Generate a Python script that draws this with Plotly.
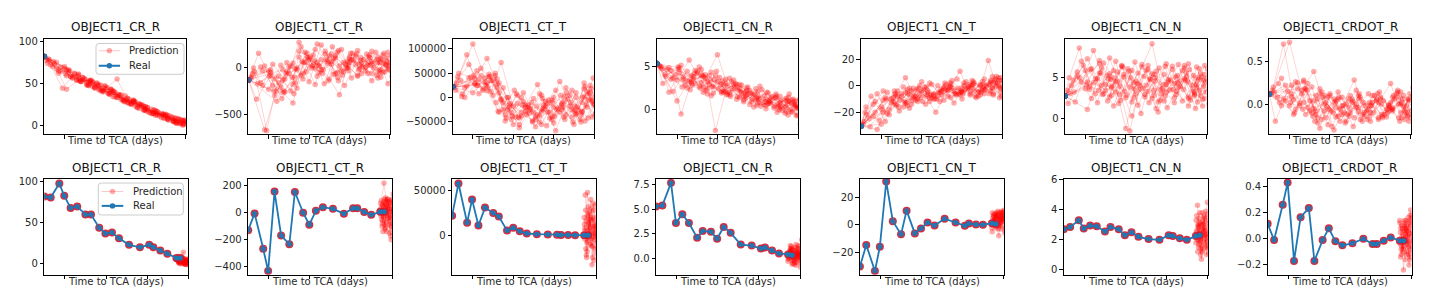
import plotly.graph_objects as go

W, H = 1434, 299
FONT = "DejaVu Sans"
TXT = "#262626"

titles = ["OBJECT1_CR_R", "OBJECT1_CT_R", "OBJECT1_CT_T", "OBJECT1_CN_R",
          "OBJECT1_CN_T", "OBJECT1_CN_N", "OBJECT1_CRDOT_R"]
x_label = "Time to TCA (days)"
x_ticks = [-6, -4, -2, 0]
legend_names = ["Prediction", "Real"]

# time of real observations (days to TCA)
real_t = [-7.0, -6.69, -6.27, -6.03, -5.72, -5.40, -5.0, -4.73, -4.33, -4.03,
          -3.71, -3.37, -2.88, -2.35, -1.90, -1.70, -1.36, -1.02, -0.58, -0.39]

# prediction sample times, top row (one list per sampled trajectory)
pred_t_top = [
    [-6.8, -6.3, -5.8, -5.2, -4.7, -4.1, -3.5, -2.9, -2.3, -1.8, -1.2, -0.6, -0.05],
    [-6.5, -5.6, -5.0, -4.5, -3.9, -3.4, -2.8, -2.3, -1.7, -1.2, -0.7, -0.3, 0.1],
    [-6.9, -6.0, -5.4, -4.8, -4.3, -3.7, -3.1, -2.6, -2.0, -1.5, -0.9, -0.4, 0.05],
    [-6.2, -5.5, -4.9, -4.4, -3.8, -3.3, -2.7, -2.1, -1.6, -1.1, -0.6, -0.2, 0.2],
    [-5.9, -5.3, -4.8, -4.2, -3.6, -3.0, -2.5, -2.0, -1.5, -1.0, -0.5, -0.1, 0.3],
    [-6.7, -6.1, -5.5, -4.9, -4.4, -3.8, -3.2, -2.7, -2.2, -1.6, -1.0, -0.5, -0.1],
    [-6.4, -5.7, -5.1, -4.6, -4.0, -3.5, -2.9, -2.4, -1.9, -1.3, -0.8, -0.35, 0.1],
    [-5.6, -5.0, -4.5, -4.0, -3.4, -2.9, -2.4, -1.9, -1.4, -0.9, -0.45, -0.05, 0.3],
    [-6.6, -5.9, -5.2, -4.6, -4.1, -3.6, -3.0, -2.5, -1.95, -1.4, -0.85, -0.3, 0.15],
    [-6.0, -5.4, -4.7, -4.2, -3.7, -3.2, -2.6, -2.1, -1.55, -1.05, -0.55, -0.15, 0.25],
    [-6.85, -6.2, -5.7, -5.1, -4.5, -3.95, -3.4, -2.8, -2.25, -1.7, -1.15, -0.65, -0.2],
    [-5.3, -4.85, -4.35, -3.85, -3.35, -2.85, -2.35, -1.85, -1.35, -0.9, -0.5, -0.15, 0.2],
    [-6.3, -5.8, -5.25, -4.7, -4.15, -3.6, -3.05, -2.55, -2.0, -1.45, -0.95, -0.45, 0.0],
    [-6.75, -6.4, -5.9, -5.3, -4.75, -4.25, -3.7, -3.15, -2.6, -2.05, -1.45, -0.9, -0.35],
    [-5.75, -5.15, -4.6, -4.05, -3.55, -3.05, -2.55, -2.05, -1.6, -1.1, -0.65, -0.25, 0.15],
    [-6.55, -5.95, -5.35, -4.8, -4.3, -3.75, -3.25, -2.7, -2.15, -1.65, -1.1, -0.6, -0.1],
]

# prediction sample times, bottom row
pred_t_bottom = [
    [-0.55, -0.42, -0.28, -0.15, -0.02],
    [-0.50, -0.36, -0.22, -0.08, 0.06],
    [-0.58, -0.46, -0.31, -0.19, -0.05],
    [-0.48, -0.33, -0.20, -0.10, 0.04],
    [-0.53, -0.40, -0.25, -0.12, 0.02],
    [-0.45, -0.30, -0.17, -0.06, 0.08],
    [-0.57, -0.44, -0.33, -0.21, -0.09],
    [-0.51, -0.38, -0.24, -0.13, 0.00],
    [-0.47, -0.35, -0.26, -0.11, 0.03],
    [-0.54, -0.41, -0.29, -0.16, -0.04],
    [-0.49, -0.37, -0.23, -0.09, 0.05],
    [-0.56, -0.43, -0.27, -0.14, -0.01],
]

# ---------------- OBJECT1_CR_R ----------------
cr_r_real = [82, 81, 98, 83, 68, 70, 60, 60, 44, 37, 38, 31, 23, 20, 23, 20, 16, 12, 7, 7]
cr_r_pred_top = [
    [79, 62, 66, 52, 54, 41, 39, 27, 25, 15, 14, 5, 6],
    [73, 57, 55, 44, 45, 33, 31, 20, 19, 9, 10, 2, 5],
    [77, 70, 54, 53, 42, 43, 30, 29, 18, 17, 7, 8, 1],
    [64, 62, 48, 50, 37, 36, 25, 23, 14, 13, 5, 6, -1],
    [59, 60, 47, 48, 34, 35, 23, 22, 12, 13, 3, 6, 0],
    [72, 44, 61, 49, 50, 38, 36, 26, 24, 14, 12, 4, 2],
    [75, 58, 57, 46, 46, 34, 32, 21, 21, 11, 11, 3, 4],
    [56, 55, 45, 47, 33, 32, 21, 21, 12, 12, 2, 5, -2],
    [70, 66, 52, 51, 41, 40, 29, 28, 17, 16, 6, 7, 1],
    [68, 54, 53, 42, 43, 31, 30, 18, 18, 8, 9, 0, 4],
    [74, 69, 58, 57, 45, 44, 55, 26, 25, 14, 13, 5, 6],
    [61, 48, 48, 38, 37, 27, 26, 16, 15, 7, 8, 1, 4],
    [65, 64, 53, 52, 40, 41, 28, 29, 22, 13, 12, 3, 5],
    [78, 67, 43, 54, 53, 43, 42, 30, 29, 18, 17, 8, 7],
    [65, 52, 52, 40, 40, 29, 28, 18, 18, 9, 9, 2, 5],
    [76, 61, 59, 48, 48, 37, 36, 25, 24, 14, 13, 4, 1],
]
cr_r_pred_bottom = [
    [6, 2, 4, -1, 3], [9, 3, 1, 5, 0], [5, 7, 2, 0, 4], [3, 0, 6, 2, -2],
    [8, 4, 1, 3, 1], [2, 5, 0, 4, 2], [7, 1, 3, 6, 0], [4, 6, 14, 1, 3],
    [1, 3, 5, -1, 6], [6, 0, 2, 4, 1], [3, 8, 1, 2, 5], [5, 2, 7, 0, 2],
]

# ---------------- OBJECT1_CT_R ----------------
ct_r_real = [-130, -5, -268, -433, 157, -169, -234, 154, 0, -89, 14, 41, 29, -7, 34, 34, 5, -15, 7, 7]
ct_r_pred_top = [
    [-60, -190, 40, -120, -10, 110, 20, 150, -40, 80, 10, 120, -20],
    [160, -250, -60, 280, 0, 90, -70, 60, 130, -30, 170, 50, -90],
    [-100, -30, -210, 50, -120, 200, 70, -50, 100, 30, -60, 90, 140],
    [-670, -160, 20, -80, 140, -20, 110, 0, 190, 60, -110, 30, 80],
    [-20, -270, -380, 170, 60, -120, -290, 120, -10, 140, 60, -170, 20],
    [-40, -680, -90, -250, 230, 30, 180, -60, 40, -80, 110, -20, 170],
    [10, -120, 60, -220, 90, -50, 40, 200, -110, 90, 0, 140, -40],
    [-360, 10, 120, -150, 250, 70, -30, 90, 50, -140, 100, 20, -60],
    [-340, -80, -260, 0, 160, -90, 130, 20, 160, -60, 50, 160, 10],
    [-230, 30, -160, 60, -180, 150, -100, 70, -20, 120, -30, 70, 130],
    [-110, 20, -300, -40, 180, 120, -20, 100, -190, 40, 150, -80, 40],
    [-20, -100, 70, 20, -60, 230, -80, 160, 10, 70, -50, 110, -130],
    [-30, -190, -250, -100, -40, 260, 50, -140, 60, 110, 30, -100, 60],
    [0, -160, -50, -130, -280, 60, -10, 90, 170, -30, 80, 180, -50],
    [-250, -60, -20, 110, 30, -140, 190, 20, -90, 30, 90, -40, 100],
    [-170, -90, -330, -180, -60, 80, -170, 130, 0, 150, -60, 60, -10],
]
ct_r_pred_bottom = [
    [-20, 80, -140, 30, 100], [50, -90, 100, -170, 20], [10, -60, 60, -30, -200],
    [-80, 110, -10, 70, -120], [90, 220, 40, -60, 10], [-140, 0, 80, -100, 60],
    [30, -30, -110, 100, -40], [-50, 70, 20, -150, 90], [60, -120, 50, 10, -80],
    [0, 40, -70, 80, -20], [-100, 100, -40, 50, 140], [70, -20, 90, -90, 30],
]

# ---------------- OBJECT1_CT_T ----------------
ct_t_real = [22000, 58000, 14000, 40000, 11000, 31000, 25000, 21000, 5500, 8500,
             4500, 2000, 1200, 1000, 500, 300, 200, 100, 0, 0]
ct_t_pred_top = [
    [30000, 88000, 25000, 42000, 10000, -30000, -8000, -45000, -12000, -22000, 5000, -30000, 40000],
    [8000, 60000, 35000, -10000, -40000, -15000, 27000, -30000, 33000, -18000, -45000, -5000, 20000],
    [22000, 110000, 40000, 20000, -25000, -55000, -10000, -28000, 0, -40000, 10000, -15000, -35000],
    [68000, 15000, 50000, -35000, 5000, -20000, -50000, -5000, -25000, 15000, -10000, 25000, -20000],
    [38000, 80000, 28000, -15000, -38000, -2000, -22000, -52000, -8000, -28000, 18000, -40000, 5000],
    [50000, 42000, 18000, 45000, -48000, -12000, -32000, 8000, -42000, -15000, -55000, 2000, -8000],
    [0, 36000, 12000, 72000, -18000, 10000, -40000, -18000, -68000, -3000, -25000, 12000, -30000],
    [45000, 5000, 20000, -55000, -28000, -60000, -8000, 15000, -35000, 0, -48000, -12000, 30000],
    [35000, 28000, 48000, -5000, -45000, 0, -30000, -15000, -38000, 20000, -20000, -42000, -2000],
    [10000, 32000, -30000, -20000, -62000, -25000, 5000, -45000, -20000, -50000, 0, 18000, -25000],
    [15000, 40000, 8000, 35000, -25000, 15000, -20000, -35000, -5000, -30000, -10000, -50000, 10000],
    [30000, -10000, -42000, 8000, -35000, -18000, -58000, -25000, 10000, -35000, 30000, -5000, -45000],
    [24000, 55000, 20000, 30000, -12000, -30000, -48000, -2000, -20000, -45000, -18000, 22000, -15000],
    [42000, 20000, 30000, 14000, -28000, 0, -42000, -22000, -55000, -10000, 2000, -32000, -20000],
    [25000, 44000, -3000, -38000, -15000, -50000, -25000, -40000, -12000, -25000, -35000, 8000, 38000],
    [2000, 46000, 25000, 38000, 0, -40000, -15000, -38000, -30000, 5000, -40000, -28000, 0],
]
ct_t_pred_bottom = [
    [5000, 48000, -10000, 20000, 2000], [-15000, 12000, 30000, -5000, 15000],
    [20000, -25000, 8000, -12000, 34000], [0, 26000, -33000, 10000, -8000],
    [45000, -2000, 16000, 28000, -20000], [-8000, 18000, 2000, -15000, 22000],
    [12000, -18000, 24000, 4000, -28000], [28000, 6000, -12000, 18000, 10000],
    [-22000, 14000, 40000, -2000, 6000], [8000, -6000, 20000, -25000, 12000],
    [16000, 32000, -4000, 8000, -14000], [-4000, 22000, 10000, 36000, 0],
]

# ---------------- OBJECT1_CN_R ----------------
cn_r_real = [5.3, 5.4, 7.7, 3.6, 4.5, 3.6, 2.1, 2.8, 2.7, 2.0, 3.2, 2.6, 1.4, 1.3, 1.0, 1.1, 0.8, 0.5, 0.4, 0.3]
cn_r_pred_top = [
    [4.9, 4.5, -0.5, 3.8, 2.6, 3.9, 1.8, 2.9, 1.2, 2.3, 0.4, 1.3, -0.6],
    [4.6, 2.8, 4.2, 2.4, 3.7, 1.7, 2.8, 0.9, 1.6, 0.2, 1.1, -0.3, 0.8],
    [5.1, 3.4, 5.7, 3.1, 4.3, 2.2, 3.0, 1.4, 2.1, 0.7, 1.5, 0.0, 1.2],
    [2.1, 4.4, 2.7, 3.9, 2.1, 3.2, 1.1, 2.4, 0.5, 1.8, -0.2, 0.9, -1.2],
    [4.8, 3.0, 4.6, 2.6, 3.5, 1.5, 2.6, 0.8, 1.9, 0.3, 1.0, -0.7, 0.5],
    [3.0, 4.0, 2.5, 4.9, 2.9, 1.9, 2.9, 1.5, 0.3, 1.2, 0.6, 1.4, 0.2],
    [4.8, 3.8, 3.0, 3.6, 6.3, 2.7, 1.4, 2.2, 0.9, 1.5, -0.1, 0.7, -1.6],
    [3.3, 4.4, 1.8, 3.2, 2.0, 2.4, 0.6, 2.7, 1.0, 0.4, 1.8, 0.1, 0.9],
    [4.0, 4.6, 3.5, 4.0, -2.4, 2.1, 2.3, 1.8, 1.3, 0.8, 0.2, 1.1, -0.4],
    [1.0, 3.3, 3.8, 1.9, 2.8, 3.4, 1.6, 1.1, 2.0, -0.3, 0.9, 0.4, 1.5],
    [5.0, 3.6, 3.5, 4.5, 3.2, 2.4, 3.6, 1.9, 1.7, 0.6, 1.3, -0.4, 0.6],
    [3.9, 2.5, 3.4, 2.9, 1.5, 2.1, 1.9, 0.4, 1.4, 0.8, -0.6, 0.5, 0.0],
    [3.5, 5.1, 2.8, 2.0, 3.4, 3.0, 1.2, 2.5, 1.5, 1.0, 0.0, 0.9, 0.3],
    [4.7, 2.0, 4.2, 3.2, 3.9, 2.7, 2.0, 2.6, 2.0, 0.5, 0.7, 1.0, -0.2],
    [2.6, 4.1, 2.2, 4.4, 1.7, 2.9, 2.2, 1.3, 0.1, 1.4, 0.4, 1.2, -0.9],
    [3.8, 4.9, 2.3, 4.0, 1.6, 3.3, 2.4, 0.9, 1.8, 0.9, 1.6, 0.3, 1.0],
]
cn_r_pred_bottom = [
    [0.3, 1.2, -0.2, 0.6, 0.1], [0.8, -0.5, 0.4, 1.0, -0.1], [-0.3, 0.5, 0.9, -0.7, 0.3],
    [0.6, 0.0, 1.4, 0.2, 0.7], [0.1, 0.9, -0.4, 0.5, -0.9], [1.0, 0.2, 0.6, -0.2, 1.9],
    [-0.1, 0.7, 0.3, 0.8, 0.0], [0.5, -0.6, 1.1, 0.1, 0.4], [1.3, 0.4, -0.1, 0.9, 0.2],
    [0.0, 0.8, 0.5, -0.4, 1.2], [0.7, -0.2, 0.2, 1.3, -0.5], [0.2, 1.0, -0.6, 0.4, 0.6],
]

# ---------------- OBJECT1_CN_T ----------------
cn_t_real = [-30.5, -14.7, -33.8, -16.0, 31.9, 2.8, -6.9, 10.5, -6.2, -2.6,
             1.8, -0.4, 4.6, 1.8, -0.6, 1.0, 0.3, 0.2, 1.2, 0.7]
cn_t_pred_top = [
    [-20, -12, -27, -4, -15, 0, -9, -1, -7, 3, -5, 2, -8],
    [-8, -22, -6, -14, -3, -10, 1, -6, -1, -8, 19, 0, 5],
    [-29, -16, -9, 6, -11, -4, -12, 2, -5, 0, -6, 4, -3],
    [-33, -10, -16, -2, -8, -20, -3, 11, -7, 1, -4, 6, -12],
    [-4, -14, -5, -12, 2, -7, -2, -10, 4, -3, 7, -5, 1],
    [-22, -26, -13, -1, -9, -14, 0, -8, -2, -6, 3, -2, 6],
    [-14, -5, -19, -7, -4, 1, -11, -4, 2, -9, 0, 5, -4],
    [-18, -8, -11, 3, -6, -2, -13, 0, -4, 5, -7, -1, 3],
    [-25, -20, -8, -17, -6, -9, -4, 4, -6, 2, -3, 7, -6],
    [-29, -12, -3, -10, -5, -8, -1, -7, 0, -5, 3, -9, 2],
    [-27, -6, -21, -11, -4, -12, -7, -3, 5, -2, -4, 1, -1],
    [-6, -12, -8, -1, -10, 2, -6, -3, -8, 1, -2, 4, -5],
    [-20, -9, -15, -6, -2, -12, -5, -9, -2, 3, -1, -6, 4],
    [-16, -23, -11, -7, -13, -3, -7, -5, -1, -4, 1, -3, 2],
    [-10, -16, -2, -9, -7, -3, 1, -5, -3, 0, -6, 2, 0],
    [-31, -18, -4, -13, -8, -1, -10, -4, -6, 1, -7, 4, -2],
]
cn_t_pred_bottom = [
    [2, 8, -3, 5, 10], [6, -1, 9, 3, -6], [-2, 4, 7, 0, 6], [8, 1, 5, 9, 2],
    [0, 6, -8, 4, 11], [4, 10, 2, 7, -2], [-5, 3, 6, 1, 8], [7, -2, 4, 10, 3],
    [3, 9, 0, 6, -4], [5, 0, 8, -1, 7], [1, 7, 3, 9, 5], [9, 2, 6, -3, 4],
]

# ---------------- OBJECT1_CN_N ----------------
cn_n_real = [2.7, 2.85, 3.3, 2.75, 2.95, 2.9, 2.55, 2.85, 2.7, 2.3,
             2.5, 2.2, 2.05, 2.0, 2.3, 2.25, 2.1, 2.0, 2.25, 2.3]
cn_n_pred_top = [
    [4.9, 8.5, 3.5, 6.1, 2.8, 5.3, 3.0, 6.4, 2.2, 4.6, 5.8, 2.7, 4.4],
    [2.0, 8.2, 4.1, 3.2, 6.0, 1.6, 4.8, 3.5, 5.9, 2.1, 4.0, 5.4, 1.8],
    [3.4, 5.8, 1.9, 7.3, 3.9, 0.3, 5.1, 2.8, 6.6, 3.3, 1.5, 4.7, 6.0],
    [6.9, 3.0, 5.2, 4.5, -1.5, 4.0, 2.4, 5.3, 4.2, 6.1, 3.1, 2.3, 5.2],
    [1.1, 5.5, 2.6, 6.3, 3.6, 5.8, 1.2, 4.1, 2.9, 5.0, 3.7, 6.4, 3.0],
    [4.0, 6.4, 4.8, 2.1, 5.6, 3.8, 6.2, 9.0, 3.6, 1.9, 5.5, 4.1, 2.4],
    [5.1, 2.4, 6.7, 4.9, -1.2, 4.5, 3.3, 0.8, 4.7, 3.9, 2.2, 6.0, 4.3],
    [4.3, 3.4, 6.9, 2.5, 4.2, 5.9, 2.0, 4.4, 6.5, 2.6, 4.9, 3.2, 5.6],
    [4.6, 7.2, 4.0, 1.5, 5.0, 2.5, 4.0, 5.7, 1.3, 3.8, 5.9, 2.8, 3.6],
    [3.6, 4.8, 3.7, 6.4, 2.0, 6.5, 3.4, 2.1, 5.0, 4.6, 1.2, 4.6, 6.2],
    [1.8, 4.4, 6.0, 3.0, 4.4, 2.8, 5.5, 4.7, 3.0, 6.3, 3.5, 5.2, 1.5],
    [6.6, 4.8, 1.8, 5.7, 3.5, 1.9, 6.1, 3.4, 4.5, 2.4, 6.2, 3.9, 4.2],
    [4.9, 3.8, 5.5, 3.9, 6.2, 4.3, 2.6, 4.9, 3.2, 5.2, 4.4, 2.0, 4.8],
    [3.0, 5.6, 4.4, 7.0, 4.7, 2.2, 5.8, 3.6, 5.3, 2.7, 4.3, 6.6, 3.4],
    [5.9, 2.9, 5.8, 3.3, 6.8, 2.9, 4.5, 6.3, 2.5, 4.8, 3.3, 5.0, 2.7],
    [3.2, 4.1, 3.4, 5.4, 2.9, 4.9, 0.6, 5.4, 4.1, 3.5, 6.4, 2.9, 5.3],
]
cn_n_pred_bottom = [
    [2.3, 3.4, 1.2, 2.8, 4.5], [4.3, 2.0, 3.1, 1.5, 2.6], [1.8, 2.9, 0.7, 3.6, 2.2],
    [3.0, 1.4, 2.5, 3.9, 1.1], [2.6, 3.8, 1.9, 2.3, 3.3], [1.5, 2.7, 3.5, 1.0, 2.9],
    [3.3, 1.7, 2.2, 3.0, 1.6], [2.0, 3.1, 1.3, 2.6, 3.7], [2.8, 1.0, 3.2, 2.1, 2.4],
    [3.6, 2.4, 1.6, 3.4, 1.9], [1.2, 3.0, 2.7, 1.8, 3.1], [2.5, 1.9, 3.8, 2.4, 1.4],
]

# ---------------- OBJECT1_CRDOT_R ----------------
crdot_r_real = [0.115, -0.01, 0.26, 0.43, -0.17, 0.165, 0.235, -0.17, -0.01, 0.08,
                -0.02, -0.05, -0.035, 0.0, -0.04, -0.04, -0.015, 0.01, -0.015, -0.015]
crdot_r_pred_top = [
    [0.20, 0.70, 0.05, 0.18, -0.12, 0.08, -0.20, 0.02, -0.10, 0.10, -0.15, 0.00, -0.08],
    [0.02, 0.25, -0.08, 0.12, -0.26, -0.02, 0.28, -0.14, 0.04, -0.06, 0.12, -0.18, 0.19],
    [0.12, 0.72, 0.16, 0.38, 0.00, -0.15, 0.06, -0.09, -0.20, 0.08, -0.04, 0.06, -0.12],
    [0.22, -0.02, 0.20, -0.18, 0.06, -0.10, -0.04, 0.12, -0.16, -0.01, 0.08, -0.13, 0.02],
    [0.08, 0.28, -0.05, 0.02, -0.14, 0.10, -0.18, -0.02, 0.06, 0.24, -0.10, 0.04, -0.06],
    [-0.20, 0.15, 0.01, -0.10, 0.14, -0.30, 0.00, 0.16, -0.08, -0.18, 0.02, 0.14, -0.20],
    [0.30, -0.06, 0.24, -0.22, 0.10, -0.06, 0.04, -0.20, 0.10, -0.12, 0.06, -0.03, 0.10],
    [0.18, 0.04, -0.28, 0.12, -0.12, 0.06, -0.12, 0.02, -0.14, 0.08, -0.16, 0.12, -0.04],
    [0.08, 0.22, -0.12, 0.06, -0.24, 0.14, -0.10, 0.08, -0.02, -0.16, 0.10, -0.08, 0.04],
    [-0.02, 0.12, 0.10, -0.16, 0.04, -0.20, 0.10, -0.06, 0.14, -0.04, -0.20, 0.06, -0.12],
    [0.16, 0.04, 0.26, -0.04, 0.18, -0.08, 0.08, -0.16, -0.02, 0.06, -0.10, 0.16, -0.02],
    [0.26, -0.14, 0.08, -0.10, -0.02, -0.26, 0.02, -0.10, 0.04, -0.08, 0.00, -0.14, 0.08],
    [0.06, -0.12, 0.18, -0.08, -0.03, 0.06, -0.14, 0.12, -0.10, 0.00, -0.06, 0.02, -0.16],
    [0.14, -0.02, 0.12, 0.02, -0.20, 0.10, -0.04, -0.12, -0.04, 0.02, -0.12, -0.06, 0.10],
    [-0.10, 0.16, -0.16, -0.06, 0.08, -0.04, 0.06, -0.14, 0.02, -0.08, 0.14, -0.10, -0.01],
    [0.24, 0.02, -0.06, 0.04, -0.08, 0.02, -0.22, 0.00, -0.18, 0.12, -0.02, -0.16, 0.06],
]
crdot_r_pred_bottom = [
    [0.05, -0.08, 0.14, -0.02, 0.10], [-0.12, 0.10, -0.04, 0.18, -0.10],
    [0.14, -0.02, -0.16, 0.06, 0.22], [-0.06, 0.12, 0.02, -0.14, 0.04],
    [0.08, -0.24, 0.06, 0.12, -0.06], [-0.02, 0.04, 0.16, -0.08, 0.14],
    [0.12, -0.10, -0.02, 0.08, -0.16], [-0.08, 0.06, 0.10, -0.20, 0.02],
    [0.02, 0.14, -0.12, 0.04, 0.16], [-0.14, 0.00, 0.08, -0.06, -0.02],
    [0.10, -0.06, -0.10, 0.14, 0.06], [-0.04, 0.08, 0.02, -0.12, 0.18],
]

# axis ranges / ticks per panel
top_ranges = [[-10.9, 103], [-720, 316], [-75400, 120600], [-2.83, 8.13],
              [-36.7, 35.4], [-1.91, 9.61], [-0.352, 0.76]]
top_ticks = [[0, 50, 100], [-500, 0], [-50000, 0, 50000, 100000], [0, 5],
             [-20, 0, 20], [0, 5], [0.0, 0.5]]
top_fmt = ["d", "d", "d", "d", "d", "d", ".1f"]
bottom_ranges = [[-13.5, 103.6], [-460, 251], [-44100, 63100], [-1.67, 8.1],
                 [-36.5, 33.8], [-0.32, 6.05], [-0.275, 0.458]]
bottom_ticks = [[0, 50, 100], [-400, -200, 0, 200], [0, 50000], [0.0, 2.5, 5.0, 7.5],
                [-20, 0, 20], [0, 2, 4, 6], [-0.2, 0.0, 0.2, 0.4]]
bottom_fmt = ["d", "d", "d", ".1f", "d", "d", ".1f"]

series = [
    (cr_r_real, cr_r_pred_top, cr_r_pred_bottom),
    (ct_r_real, ct_r_pred_top, ct_r_pred_bottom),
    (ct_t_real, ct_t_pred_top, ct_t_pred_bottom),
    (cn_r_real, cn_r_pred_top, cn_r_pred_bottom),
    (cn_t_real, cn_t_pred_top, cn_t_pred_bottom),
    (cn_n_real, cn_n_pred_top, cn_n_pred_bottom),
    (crdot_r_real, crdot_r_pred_top, crdot_r_pred_bottom),
]

PRED_LINE = "rgba(255,0,0,0.22)"
PRED_MARK = "rgba(255,0,0,0.33)"
RING = "rgba(205,25,45,0.9)"
BLUE = "#1f77b4"
PRED_SIZE = 5.5
REAL_SIZE_TOP = 6

# layout of the two rows (pixels); legend box inside first panel of each row
rows = [
    dict(left=44.3, step=204.17, w=141.5, y0=34.5, y1=132.0, ranges=top_ranges,
         ticks=top_ticks, fmt=top_fmt, title_b=32.0, xlabel_b=146.0,
         leg_box=(96.0, 39.3, 184.0, 70.7), leg_rows=(46.7, 62.0),
         leg_line=(98.7, 120.0), leg_text=127.3),
    dict(left=44.3, step=203.9, w=144.0, y0=177.5, y1=275.2, ranges=bottom_ranges,
         ticks=bottom_ticks, fmt=bottom_fmt, title_b=176.0, xlabel_b=289.5,
         leg_box=(98.3, 181.7, 183.3, 214.3), leg_rows=(190.3, 205.0),
         leg_line=(101.7, 123.3), leg_text=130.7),
]


def fx(p):
    return p / W


def fy(p):
    return 1 - p / H


fig = go.Figure()
layout = {}
annotations = []
shapes = []

for r, row in enumerate(rows):
    for i in range(7):
        n = r * 7 + i + 1
        xa = "x" if n == 1 else f"x{n}"
        ya = "y" if n == 1 else f"y{n}"
        x0 = row["left"] + i * row["step"]
        x1 = x0 + row["w"]
        real, ptop, pbot = series[i]
        if r == 0:
            px, py = [], []
            for tt, yy in zip(pred_t_top, ptop):
                px += [real_t[0]] + tt + [None]
                py += [real[0]] + yy + [None]
            fig.add_trace(go.Scatter(
                x=px, y=py, mode="lines+markers", name="Prediction",
                line=dict(color=PRED_LINE, width=0.8),
                marker=dict(color=PRED_MARK, size=PRED_SIZE),
                xaxis=xa, yaxis=ya, showlegend=False, connectgaps=False))
            fig.add_trace(go.Scatter(
                x=real_t[:1], y=real[:1], mode="lines+markers", name="Real",
                line=dict(color=BLUE, width=2), marker=dict(color=BLUE, size=REAL_SIZE_TOP),
                xaxis=xa, yaxis=ya, showlegend=False))
        else:
            px, py = [], []
            for tt, yy in zip(pred_t_bottom, pbot):
                px += tt + [None]
                py += yy + [None]
            fig.add_trace(go.Scatter(
                x=px, y=py, mode="lines+markers", name="Prediction",
                line=dict(color=PRED_LINE, width=0.8),
                marker=dict(color=PRED_MARK, size=PRED_SIZE),
                xaxis=xa, yaxis=ya, showlegend=False, connectgaps=False))
            fig.add_trace(go.Scatter(
                x=real_t, y=real, mode="markers", name="history",
                marker=dict(color=RING, size=8),
                xaxis=xa, yaxis=ya, showlegend=False))
            fig.add_trace(go.Scatter(
                x=real_t, y=real, mode="lines+markers", name="Real",
                line=dict(color=BLUE, width=1.8), marker=dict(color=BLUE, size=5),
                xaxis=xa, yaxis=ya, showlegend=False))

        axis_common = dict(showline=True, linecolor="black", linewidth=1, mirror=True,
                           ticks="outside", ticklen=3.5, tickwidth=1, tickcolor="black",
                           showgrid=False, zeroline=False,
                           tickfont=dict(family=FONT, size=10, color=TXT))
        layout["xaxis" if n == 1 else f"xaxis{n}"] = dict(
            domain=[fx(x0), fx(x1)], anchor=ya, range=[-7, 0],
            tickvals=x_ticks, showticklabels=False, **axis_common)
        layout["yaxis" if n == 1 else f"yaxis{n}"] = dict(
            domain=[fy(row["y1"]), fy(row["y0"])], anchor=xa,
            range=row["ranges"][i], tickvals=row["ticks"][i],
            tickformat=row["fmt"][i], **axis_common)

        cx = fx((x0 + x1) / 2)
        annotations.append(dict(text=titles[i], x=cx, y=fy(row["title_b"]),
                                xref="paper", yref="paper", xanchor="center",
                                yanchor="bottom", showarrow=False,
                                font=dict(family=FONT, size=12, color="#111111")))
        annotations.append(dict(text=x_label, x=cx, y=fy(row["xlabel_b"]),
                                xref="paper", yref="paper", xanchor="center",
                                yanchor="bottom", showarrow=False,
                                font=dict(family=FONT, size=10, color=TXT)))

    # ---- legend (matplotlib style, rounded box) ----
    bx0, by0, bx1, by1 = row["leg_box"]
    rad = 3.0
    path = (f"M {fx(bx0 + rad)},{fy(by0)} L {fx(bx1 - rad)},{fy(by0)} "
            f"Q {fx(bx1)},{fy(by0)} {fx(bx1)},{fy(by0 + rad)} "
            f"L {fx(bx1)},{fy(by1 - rad)} Q {fx(bx1)},{fy(by1)} {fx(bx1 - rad)},{fy(by1)} "
            f"L {fx(bx0 + rad)},{fy(by1)} Q {fx(bx0)},{fy(by1)} {fx(bx0)},{fy(by1 - rad)} "
            f"L {fx(bx0)},{fy(by0 + rad)} Q {fx(bx0)},{fy(by0)} {fx(bx0 + rad)},{fy(by0)} Z")
    shapes.append(dict(type="path", path=path, xref="paper", yref="paper",
                       fillcolor="rgba(255,255,255,0.8)",
                       line=dict(color="#cccccc", width=1), layer="above"))
    lx0, lx1 = row["leg_line"]
    lmid = (lx0 + lx1) / 2
    styles = [(PRED_LINE, 1.0, PRED_MARK, PRED_SIZE), (BLUE, 2.0, BLUE, 5.5)]
    for name, ly, (lc, lw, mc, ms) in zip(legend_names, row["leg_rows"], styles):
        shapes.append(dict(type="line", xref="paper", yref="paper",
                           x0=fx(lx0), x1=fx(lx1), y0=fy(ly), y1=fy(ly),
                           line=dict(color=lc, width=lw), layer="above"))
        shapes.append(dict(type="circle", xref="paper", yref="paper",
                           x0=fx(lmid - ms / 2), x1=fx(lmid + ms / 2),
                           y0=fy(ly + ms / 2), y1=fy(ly - ms / 2),
                           fillcolor=mc, line=dict(width=0), layer="above"))
        annotations.append(dict(text=name, x=fx(row["leg_text"]), y=fy(ly),
                                xref="paper", yref="paper", xanchor="left",
                                yanchor="middle", showarrow=False,
                                font=dict(family=FONT, size=10, color=TXT)))

fig.update_layout(
    width=W, height=H, margin=dict(l=0, r=0, t=0, b=0),
    paper_bgcolor="white", plot_bgcolor="white",
    font=dict(family=FONT, size=10, color=TXT),
    showlegend=False,
    annotations=annotations,
    shapes=shapes,
    **layout,
)

fig.write_html(
    "out.html",
    config={"displayModeBar": False},
    post_script="document.body.style.margin='0';document.body.style.overflow='hidden';",
)
